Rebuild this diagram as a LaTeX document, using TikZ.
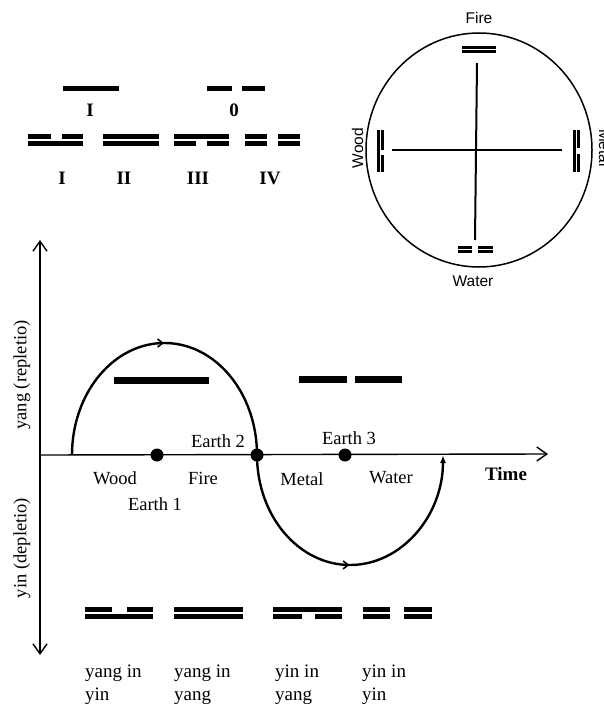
\documentclass[tikz,border=0pt]{standalone}
\usepackage{fontspec}
\setmainfont{Liberation Serif}
\newfontfamily\sanslab{Liberation Sans}
\usetikzlibrary{arrows.meta,decorations.markings,shapes.geometric}
\begin{document}
\begin{tikzpicture}[x=1pt,y=-1pt,
  bar/.style={line width=5pt},
  gbar/.style={line width=7pt},
  cbar/.style={line width=2.6pt},
  lab/.style={font=\fontsize{18.5}{22}\selectfont, inner sep=0pt},
  blab/.style={font=\fontsize{19}{22}\selectfont\bfseries, inner sep=0pt},
  slab/.style={font=\sanslab\fontsize{15.5}{18}\selectfont, inner sep=0pt},
  dot/.style={circle, fill=black, minimum size=13pt, inner sep=0pt},
  axisline/.style={line width=1.4pt},
  crossline/.style={line width=2pt},
  curveline/.style={line width=2.4pt},
  barb/.tip={Straight Barb[length=10pt,width=14pt,line width=1.4pt]},
  midtip/.tip={Straight Barb[length=5pt,width=8pt,line width=1.6pt]},
  endtip/.tip={Latex[length=8pt,width=6pt]},
  twoline/.style={font=\fontsize{19}{22.5}\selectfont, inner sep=0pt, align=left, anchor=base west},
]
\useasboundingbox (0,0) rectangle (604,709);

% ---------- top left: monograms ----------
\draw[bar] (63,88) -- (119,88);
\draw[bar] (207,88) -- (232,88); \draw[bar] (242,88) -- (265,88);
\node[blab] (lI) at (90,110) {I};
\node[blab] (l0) at (234,110) {0};

% digram row
% I : top broken, bottom solid
\draw[bar] (28,136.5) -- (51,136.5); \draw[bar] (62,136.5) -- (83,136.5);
\draw[bar] (28,143.5) -- (83,143.5);
% II : both solid
\draw[bar] (103,136.5) -- (159,136.5);
\draw[bar] (103,143.5) -- (159,143.5);
% III : top solid, bottom broken
\draw[bar] (174,136.5) -- (229,136.5);
\draw[bar] (174,143.5) -- (196,143.5); \draw[bar] (207,143.5) -- (229,143.5);
% IV : both broken
\draw[bar] (245,136.5) -- (267,136.5); \draw[bar] (278,136.5) -- (300,136.5);
\draw[bar] (245,143.5) -- (267,143.5); \draw[bar] (278,143.5) -- (300,143.5);
\node[blab] (rI) at (62,178) {I};
\node[blab] (rII) at (124,178) {II};
\node[blab] (rIII) at (198,178) {III};
\node[blab] (rIV) at (270,178) {IV};

% ---------- circle ----------
\node[draw, ellipse, line width=1.5pt, minimum width=226pt, minimum height=234pt, inner sep=0pt] (circ) at (479,150) {};
\coordinate (vt) at (477,63);
\coordinate (vb) at (475,240);
\coordinate (hl) at (392,150);
\coordinate (hr) at (562,150);
\draw[crossline] (vt) -- (vb);
\draw[crossline] (hl) -- (hr);
% Fire: both solid
\draw[cbar] (462,47.5) -- (496,47.5);
\draw[cbar] (462,51.5) -- (496,51.5);
% Water: both broken
\draw[cbar] (458,247.5) -- (472,247.5); \draw[cbar] (478,247.5) -- (493,247.5);
\draw[cbar] (458,251.5) -- (472,251.5); \draw[cbar] (478,251.5) -- (493,251.5);
% Wood: outer solid, inner broken
\draw[cbar] (378.5,130) -- (378.5,172);
\draw[cbar] (382.5,130) -- (382.5,149.5); \draw[cbar] (382.5,155) -- (382.5,172);
% Metal: inner solid, outer broken
\draw[cbar] (574.5,130) -- (574.5,172);
\draw[cbar] (578.5,130) -- (578.5,148); \draw[cbar] (578.5,154) -- (578.5,172);
\node[slab] (fire) at (479,18) {Fire};
\node[slab] (water) at (473,281) {Water};
\node[slab, rotate=90, anchor=base] (wood) at (363,148) {Wood};
\node[slab, rotate=-90, anchor=base] (metal) at (599,148) {Metal};

% ---------- graph ----------
\coordinate (ytop) at (40,240);
\coordinate (ybot) at (40,655);
\coordinate (xl) at (40,455);
\coordinate (xr) at (548,454);
\draw[axisline, {barb}-{barb}] (ybot) -- (ytop);
\draw[axisline, -{barb}] (xl) -- (xr);

\coordinate (c0) at (72,455);
\coordinate (peak) at (164.5,343);
\coordinate (bottom) at (350,565);
\coordinate (cend) at (443,455);

\node[dot] (e1) at (157,455) {};
\node[dot] (e2) at (257,455) {};
\node[dot] (e3) at (345,455) {};

\draw[curveline,
  postaction={decorate},
  decoration={markings,
    mark=at position 0.25 with {\arrow{midtip}},
    mark=at position 0.75 with {\arrow{midtip}}},
  -{endtip}]
  (c0) .. controls (72,393.1) and (113.4,343) .. (peak)
  .. controls (215.6,343) and (257,393.1) .. (e2.center)
  .. controls (257,515.8) and (298.6,565) .. (bottom)
  .. controls (401.4,565) and (443,515.8) .. (cend);

\draw[gbar] (114,380.5) -- (209,380.5);
\draw[gbar] (299,379) -- (347,379); \draw[gbar] (355,379) -- (402,379);

\node[lab] (wood2) at (115,478) {Wood};
\node[lab] (fire2) at (203,478) {Fire};
\node[lab] (earth1) at (155,504) {Earth 1};
\node[lab] (earth2) at (218,441) {Earth 2};
\node[lab] (earth3) at (349,438) {Earth 3};
\node[lab] (metal2) at (302,479) {Metal};
\node[lab] (water2) at (391,478) {Water};
\node[blab] (time) at (506,474) {Time};

\node[lab, rotate=90] (yang) at (22,375) {yang (repletio)};
\node[lab, rotate=90] (yin) at (22,548) {yin (depletio)};

% ---------- bottom digrams ----------
% yang in yin
\draw[bar] (85,609) -- (112,609); \draw[bar] (127,609) -- (153,609);
\draw[bar] (85,616) -- (153,616);
% yang in yang
\draw[bar] (174,609) -- (243,609);
\draw[bar] (174,616) -- (243,616);
% yin in yang
\draw[bar] (273,609) -- (342,609);
\draw[bar] (273,616) -- (302,616); \draw[bar] (315,616) -- (342,616);
% yin in yin
\draw[bar] (363,609) -- (390,609); \draw[bar] (404,609) -- (432,609);
\draw[bar] (363,616) -- (390,616); \draw[bar] (404,616) -- (432,616);

\node[twoline] (t1) at (85,700) {yang in\\yin};
\node[twoline] (t2) at (174,700) {yang in\\yang};
\node[twoline] (t3) at (275,700) {yin in\\yang};
\node[twoline] (t4) at (362,700) {yin in\\yin};
\end{tikzpicture}
\end{document}
